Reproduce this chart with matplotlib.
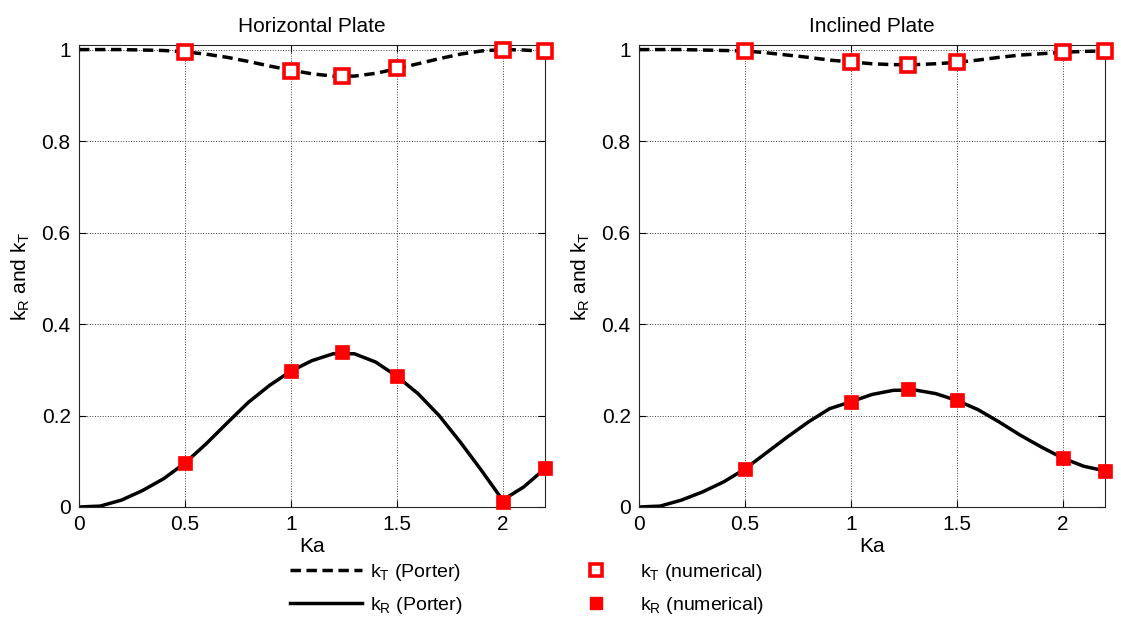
import numpy as np
import matplotlib
matplotlib.use("Agg")
import matplotlib.pyplot as plt
from matplotlib.lines import Line2D

plt.rcParams['font.family'] = ['Liberation Sans', 'DejaVu Sans']
plt.rcParams['mathtext.default'] = 'regular'

# ---- data ----
ka_curve = [0.0, 0.1, 0.2, 0.3, 0.4, 0.5, 0.6, 0.7, 0.8, 0.9, 1.0, 1.1,
            1.2, 1.3, 1.4, 1.5, 1.6, 1.7, 1.8, 1.9, 2.0, 2.1, 2.2]

# Horizontal plate (Porter)
h_kR_curve = [0.0, 0.002, 0.015, 0.036, 0.062, 0.096, 0.138, 0.184, 0.229, 0.266,
              0.297, 0.320, 0.335, 0.335, 0.317, 0.286, 0.248, 0.200, 0.142, 0.080,
              0.015, 0.044, 0.084]
h_kT_curve = [1.0, 1.0, 1.0, 0.999, 0.998, 0.995, 0.990, 0.983, 0.974, 0.964,
              0.955, 0.947, 0.942, 0.942, 0.948, 0.958, 0.969, 0.980, 0.990, 0.997,
              1.0, 0.999, 0.996]
# Horizontal plate (numerical)
h_ka_num = [0.5, 1.0, 1.24, 1.5, 2.0, 2.2]
h_kT_num = [0.995, 0.953, 0.942, 0.959, 1.0, 0.996]
h_kR_num = [0.096, 0.297, 0.339, 0.286, 0.011, 0.085]

# Inclined plate (Porter)
i_kR_curve = [0.0, 0.002, 0.015, 0.033, 0.055, 0.083, 0.118, 0.153, 0.186, 0.215,
              0.230, 0.246, 0.255, 0.256, 0.248, 0.233, 0.213, 0.186, 0.157, 0.131,
              0.107, 0.089, 0.079]
i_kT_curve = [1.0, 1.0, 1.0, 0.999, 0.998, 0.997, 0.993, 0.988, 0.983, 0.977,
              0.973, 0.969, 0.967, 0.967, 0.969, 0.972, 0.977, 0.983, 0.988, 0.991,
              0.994, 0.996, 0.997]
# Inclined plate (numerical)
i_ka_num = [0.5, 1.0, 1.27, 1.5, 2.0, 2.2]
i_kT_num = [0.997, 0.973, 0.966, 0.972, 0.994, 0.997]
i_kR_num = [0.083, 0.230, 0.257, 0.234, 0.108, 0.079]

titles = ["Horizontal Plate", "Inclined Plate"]
xticks = [0, 0.5, 1, 1.5, 2]
xticklabels = ["0", "0.5", "1", "1.5", "2"]
yticks = [0, 0.2, 0.4, 0.6, 0.8, 1.0]
yticklabels = ["0", "0.2", "0.4", "0.6", "0.8", "1"]

fig = plt.figure(figsize=(11.21, 6.22), dpi=100)
W, H = 1121, 622
axes = [
    fig.add_axes([79 / W, 1 - 507 / H, 466 / W, 462 / H]),
    fig.add_axes([639 / W, 1 - 507 / H, 466 / W, 462 / H]),
]

datasets = [
    (h_kT_curve, h_kR_curve, h_ka_num, h_kT_num, h_kR_num),
    (i_kT_curve, i_kR_curve, i_ka_num, i_kT_num, i_kR_num),
]

fs = 15
for ax, title, (kTc, kRc, kan, kTn, kRn) in zip(axes, titles, datasets):
    ax.plot(ka_curve, kTc, color='black', lw=2.5, linestyle=(0, (3, 1.6)))
    ax.plot(ka_curve, kRc, color='black', lw=2.5, linestyle='-')
    ax.plot(kan, kTn, linestyle='none', marker='s', markersize=10,
            markerfacecolor='white', markeredgecolor='red', markeredgewidth=2.6,
            clip_on=False, zorder=5)
    ax.plot(kan, kRn, linestyle='none', marker='s', markersize=10,
            markerfacecolor='red', markeredgecolor='red', markeredgewidth=0.5,
            clip_on=False, zorder=5)
    ax.set_xlim(0, 2.2)
    ax.set_ylim(0, 1.01)
    ax.set_xticks(xticks)
    ax.set_xticklabels(xticklabels)
    ax.set_yticks(yticks)
    ax.set_yticklabels(yticklabels)
    ax.grid(True, linestyle=':', color='0.25', linewidth=0.7)
    ax.tick_params(direction='in', length=5, width=0.8, top=True, right=True,
                   labelsize=fs, pad=6)
    for sp in ax.spines.values():
        sp.set_linewidth(0.8)
        sp.set_color('0.15')
    ax.set_title(title, fontsize=fs, pad=9)
    ax.set_xlabel("Ka", fontsize=fs, labelpad=2)
    ax.set_ylabel("k$_R$ and k$_T$", fontsize=fs, labelpad=7)

handles = [
    Line2D([], [], color='black', lw=2.5, linestyle=(0, (3, 1.6))),
    Line2D([], [], color='black', lw=2.5, linestyle='-'),
    Line2D([], [], linestyle='none', marker='s', markersize=9,
           markerfacecolor='white', markeredgecolor='red', markeredgewidth=2.6),
    Line2D([], [], linestyle='none', marker='s', markersize=9,
           markerfacecolor='red', markeredgecolor='red'),
]
labels = ["k$_T$ (Porter)", "k$_R$ (Porter)", "k$_T$ (numerical)", "k$_R$ (numerical)"]
fig.legend(handles, labels, ncol=2, frameon=False, fontsize=14,
           loc='center', bbox_to_anchor=(527 / W, 1 - 589 / H),
           handlelength=3.7, handletextpad=0.4, columnspacing=5.0,
           labelspacing=0.6)

fig.savefig("out.png", dpi=100)
